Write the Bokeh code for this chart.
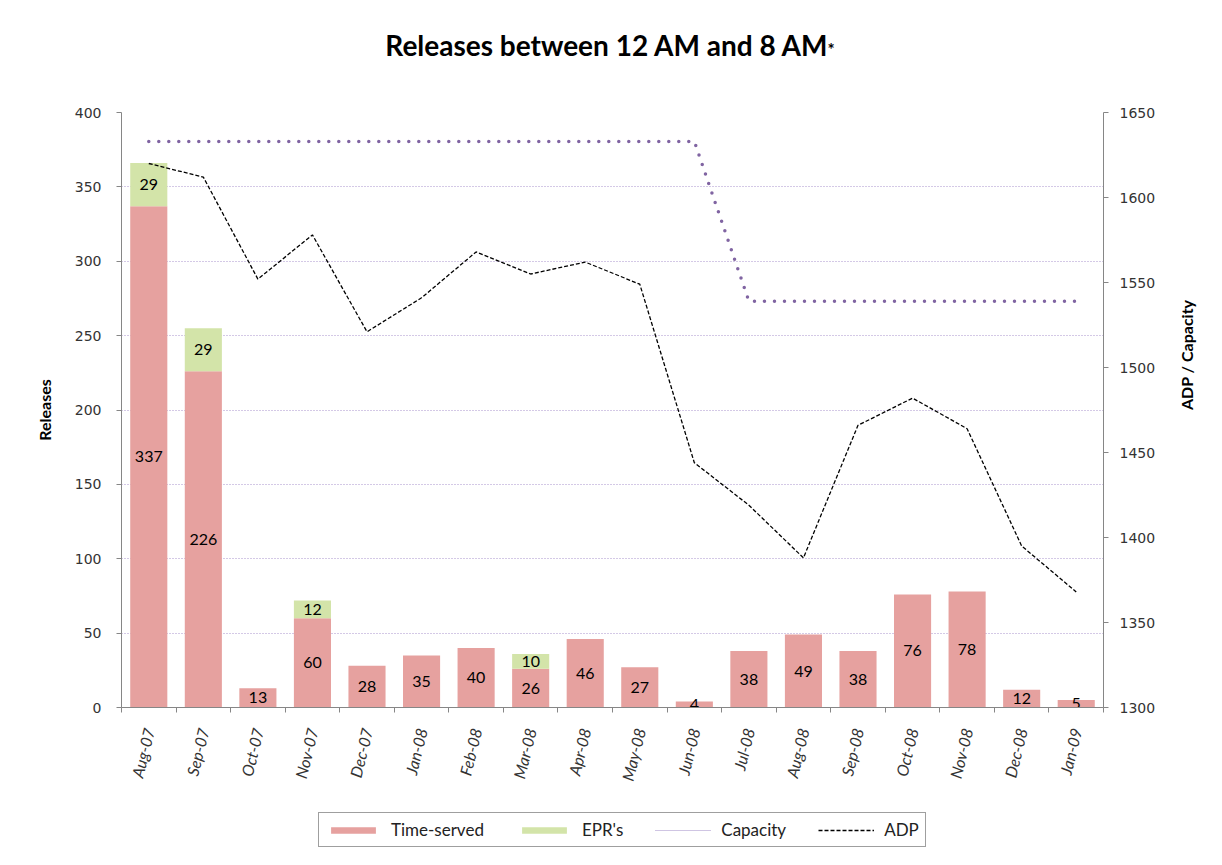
import math
from bokeh.plotting import figure
from bokeh.layouts import column
from bokeh.models import (Range1d, LinearAxis, FixedTicker, Legend, LegendItem,
                          ColumnDataSource, Div)
from bokeh.core.properties import value
from bokeh.embed import file_html
from bokeh.resources import INLINE

months = ["Aug-07", "Sep-07", "Oct-07", "Nov-07", "Dec-07", "Jan-08", "Feb-08",
          "Mar-08", "Apr-08", "May-08", "Jun-08", "Jul-08", "Aug-08", "Sep-08",
          "Oct-08", "Nov-08", "Dec-08", "Jan-09"]
time_served = [337, 226, 13, 60, 28, 35, 40, 26, 46, 27, 4, 38, 49, 38, 76, 78, 12, 5]
eprs = [29, 29, 0, 12, 0, 0, 0, 10, 0, 0, 0, 0, 0, 0, 0, 0, 0, 0]
capacity = [1633, 1633, 1633, 1633, 1633, 1633, 1633, 1633, 1633, 1633, 1633,
            1539, 1539, 1539, 1539, 1539, 1539, 1539]
adp = [1620, 1612, 1552, 1578, 1521, 1541, 1568, 1555, 1562, 1549, 1444,
       1419, 1388, 1466, 1482, 1464, 1395, 1368]
left_ticks = [0, 50, 100, 150, 200, 250, 300, 350, 400]
right_ticks = [1300, 1350, 1400, 1450, 1500, 1550, 1600, 1650]

TS_COLOR = "#E6A19F"
EPR_COLOR = "#D3E4A9"
CAP_COLOR = "#8064A2"
FONT = "Lato"
AX_COLOR = "#868686"
LBL_COLOR = "#333333"

W = 1220
L_BORDER, R_BORDER = 121, 117
LG_H = 136

xs = list(range(len(months)))
src = ColumnDataSource(dict(
    x=xs, month=months, ts=time_served, epr=eprs,
    total=[t + e for t, e in zip(time_served, eprs)],
    cap=capacity, adp=adp,
    ts_mid=[t / 2 for t in time_served],
    ts_lbl=[str(t) for t in time_served],
    lbl_y=[LG_H - 9] * len(months),
))
epr_idx = [i for i, e in enumerate(eprs) if e > 0]
epr_src = ColumnDataSource(dict(
    x=epr_idx,
    y=[time_served[i] + eprs[i] / 2 for i in epr_idx],
    lbl=[str(eprs[i]) for i in epr_idx],
))

# ---- title
title = Div(text="Releases between 12 AM and 8 AM<span style='font-size:17px'>*</span>",
            width=W, height=90, margin=0,
            styles={"font-family": "Lato", "font-size": "28px", "font-weight": "bold",
                    "text-align": "center", "line-height": "90px", "color": "#000000"})

# ---- main chart
p = figure(width=W, height=629, output_backend="svg", toolbar_location=None,
           x_range=Range1d(-0.5, len(months) - 0.5), y_range=Range1d(0, 400))
p.frame_width = 982
p.frame_height = 595
p.min_border_left = L_BORDER
p.min_border_right = R_BORDER
p.min_border_top = 22
p.min_border_bottom = 12
p.outline_line_color = None
p.background_fill_color = "white"
p.border_fill_color = "white"

p.extra_y_ranges = {"adp": Range1d(1300, 1650)}

p.vbar(x="x", top="ts", bottom=0, width=0.68, source=src,
       fill_color=TS_COLOR, line_color=None)
p.vbar(x="x", bottom="ts", top="total", width=0.68, source=src,
       fill_color=EPR_COLOR, line_color=None)

p.text(x="x", y="ts_mid", text="ts_lbl", source=src, text_align="center",
       text_baseline="middle", text_font=value(FONT), text_font_size="16px",
       text_color="black")
p.text(x="x", y="y", text="lbl", source=epr_src, text_align="center",
       text_baseline="middle", text_font=value(FONT), text_font_size="16px",
       text_color="black")

adp_style = dict(line_color="black", line_width=1.3, line_dash="4 2")
p.line(x="x", y="cap", source=src, y_range_name="adp", line_color=CAP_COLOR,
       line_width=3.5, line_dash="0 10", line_cap="round")
p.line(x="x", y="adp", source=src, y_range_name="adp", **adp_style)

p.xgrid.grid_line_color = None
p.ygrid.grid_line_color = "#A892CC"
p.ygrid.grid_line_dash = "1 2"
p.ygrid.grid_line_width = 1
p.ygrid.ticker = FixedTicker(ticks=left_ticks)

ya = p.yaxis[0]
ya.ticker = FixedTicker(ticks=left_ticks)
ya.axis_label = "Releases"
ya.axis_label_text_font = FONT
ya.axis_label_text_font_size = "16px"
ya.axis_label_text_font_style = "bold"
ya.axis_label_text_color = "black"
ya.axis_label_standoff = 18
ya.major_label_text_font = "DejaVu Sans"
ya.major_label_text_font_size = "14px"
ya.major_label_text_color = LBL_COLOR
ya.axis_line_color = AX_COLOR
ya.major_tick_line_color = AX_COLOR
ya.major_tick_in = 0
ya.major_tick_out = 5
ya.minor_tick_line_color = None
ya.major_label_standoff = 15

ra = LinearAxis(y_range_name="adp", ticker=FixedTicker(ticks=right_ticks))
ra.axis_label = "ADP / Capacity"
ra.axis_label_orientation = math.pi / 2
ra.axis_label_text_font = FONT
ra.axis_label_text_font_size = "16px"
ra.axis_label_text_font_style = "bold"
ra.axis_label_text_color = "black"
ra.axis_label_standoff = 28
ra.major_label_text_font = "DejaVu Sans"
ra.major_label_text_font_size = "14px"
ra.major_label_text_color = LBL_COLOR
ra.axis_line_color = AX_COLOR
ra.major_tick_line_color = AX_COLOR
ra.major_tick_in = 0
ra.major_tick_out = 5
ra.minor_tick_line_color = None
ra.major_label_standoff = 11
p.add_layout(ra, "right")

xa = p.xaxis[0]
xa.ticker = FixedTicker(ticks=[], minor_ticks=[i - 0.5 for i in range(len(months) + 1)])
xa.major_label_standoff = 0
xa.axis_line_color = AX_COLOR
xa.major_tick_line_color = None
xa.minor_tick_line_color = AX_COLOR
xa.minor_tick_in = 0
xa.minor_tick_out = 5

# ---- strip below: month labels + legend
lg = figure(width=W, height=LG_H, output_backend="svg", toolbar_location=None,
            x_range=p.x_range, y_range=Range1d(0, LG_H))
lg.min_border_left = L_BORDER
lg.min_border_right = R_BORDER
lg.min_border_top = 0
lg.min_border_bottom = 0
lg.outline_line_color = None
lg.axis.visible = False
lg.grid.visible = False
lg.background_fill_color = "white"
lg.border_fill_color = "white"

lg.text(x="x", y="lbl_y", text="month", source=src, angle=1.33,
        text_align="right", text_baseline="middle", text_font=value(FONT),
        text_font_size="16px", text_font_style="italic", text_color=LBL_COLOR)

# legend renderers share the data but are not drawn in this strip
l_ts = lg.vbar(x="x", top="ts", bottom=0, width=0.68, source=src,
               fill_color=TS_COLOR, line_color=None, visible=False)
l_epr = lg.vbar(x="x", bottom="ts", top="total", width=0.68, source=src,
                fill_color=EPR_COLOR, line_color=None, visible=False)
l_cap = lg.line(x="x", y="cap", source=src, line_color="#9F8BC6",
                line_width=1, line_dash="1 1", visible=False)
l_adp = lg.line(x="x", y="adp", source=src, visible=False, **adp_style)

legend = Legend(items=[
    LegendItem(label="Time-served", renderers=[l_ts]),
    LegendItem(label="EPR's", renderers=[l_epr]),
    LegendItem(label="Capacity", renderers=[l_cap]),
    LegendItem(label="ADP", renderers=[l_adp]),
], orientation="horizontal", location=(197, 8))
legend.glyph_width = 56
legend.glyph_height = 8
legend.label_height = 18
legend.label_standoff = 10
legend.spacing = 32
legend.padding = 6
legend.margin = 0
legend.label_text_font = FONT
legend.label_text_font_size = "17px"
legend.label_text_color = "#222222"
legend.border_line_color = "#404040"
legend.border_line_width = 1
legend.background_fill_color = "white"
legend.inactive_fill_alpha = 0
lg.add_layout(legend, "center")

layout = column(title, p, lg, spacing=0)
open("out.html", "w").write(file_html(layout, INLINE))
